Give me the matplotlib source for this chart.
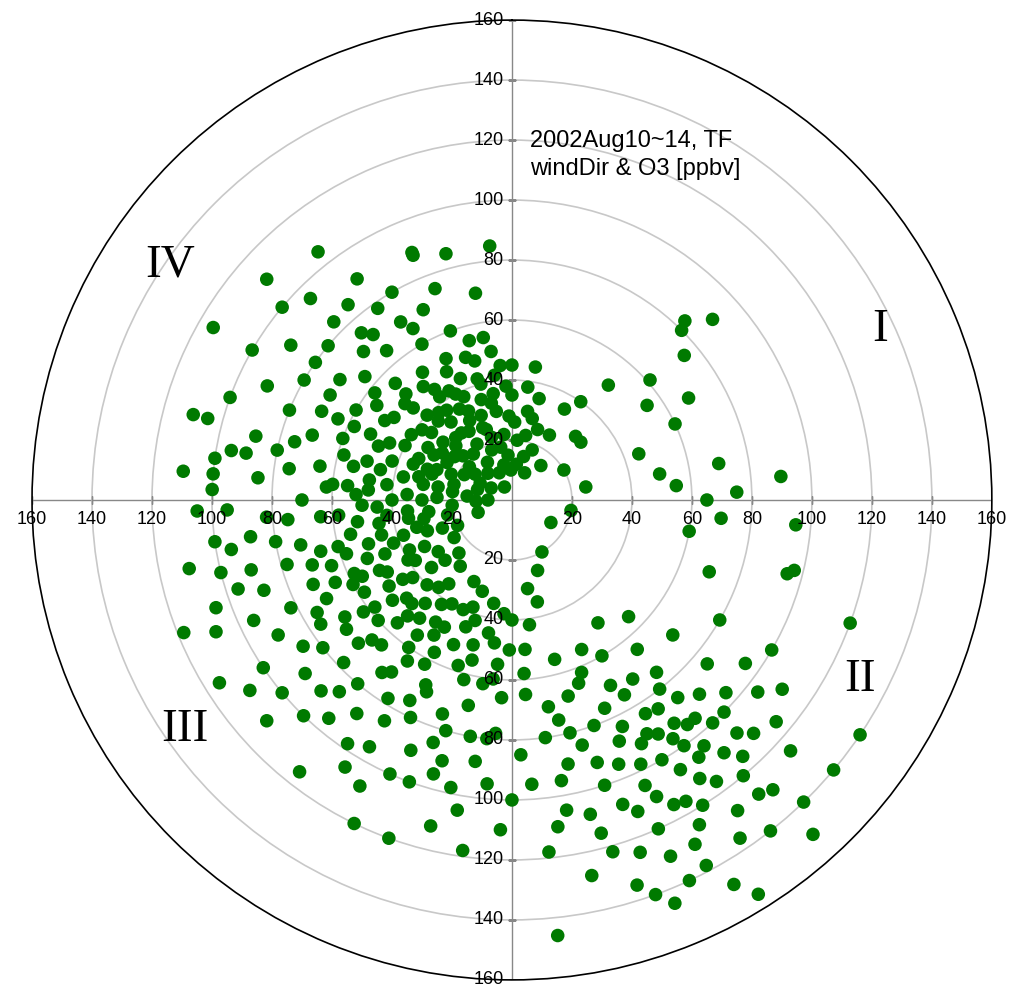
import numpy as np
import matplotlib
matplotlib.use("Agg")
import matplotlib.pyplot as plt

central = [(350,30),(340,25),(330,35),(320,20),(310,30),(300,25),(290,35),(280,30),(270,40),(260,35),(250,30),(240,40),(230,35),(220,45),(210,40),(200,45),(355,15),(345,40),(335,10),(325,45),(315,40),(305,15),(295,45),(285,20),(275,15),(265,20),(255,45),(245,20),(235,50),(225,25),(215,55),(205,30),(195,50),(190,35),(185,55),(5,20),(10,30),(15,15),(20,25),(25,10),(0,35),(358,28),(348,33),(338,18),(328,27),(318,12),(308,38),(298,18),(288,42),(278,48),(268,50),(258,55),(248,52),(238,58),(228,60),(218,50),(208,62),(198,58),(250,12),(270,8),(300,8),(330,5),(180,40),(175,50),(170,30),(160,25),(150,20),(120,15),(100,20),(80,25),(60,20),(45,30),(30,35),(40,15),(225,40),(235,30),(245,65),(255,60),(265,58),(275,55),(285,50),(295,52),(305,48),(315,50),(325,42),(335,38),(345,48),(352,42),
(342,22),(332,30),(322,33),(312,22),(302,33),(292,27),(282,37),(272,25),(262,28),(252,38),(242,33),(232,42),(222,52),(212,48),(202,52),(357,38),(347,12),(337,44),(327,15),(317,36),(307,24),(297,40),(287,12),(277,42),(267,45),(257,22),(247,46),(237,23),(227,48),(217,35),(207,57),(197,42),(187,48),(2,26),(12,22),(7,12),(353,22),(343,35),(333,48),(323,28),(313,45),(303,40),(293,22),(283,45),(273,35),(263,42),(253,50),(243,56),(233,62),(223,56),(213,64),
(300,30),(310,35),(320,38),(330,42),(340,30),(350,36),(290,30),(280,25),(270,30),(260,45),(250,42),(240,48),(230,52),(220,38),(210,52),(200,38),(195,62),(205,68),(215,60),(225,66),(235,68),(245,58),(255,66),(265,64),(275,60),(285,58),(295,58),(305,55),(315,55),(325,52),(335,52),(345,55),(355,45),(0,45),(8,38),(14,28),(22,18),(298,12),(308,18),(318,28),(328,22),(338,26),(348,18),(358,10),(288,28),(278,20),(268,12),(258,30),(248,25),(238,38),(228,30),(218,28),(208,48),(198,32),(190,45),(184,38),(344,42),(334,33),(324,37),(314,26),(304,28),(294,34),(284,32),(274,48),(264,35),(254,33),(244,38),(234,45),(224,48),(214,42),(204,40),(194,55),(189,62),(181,50),(176,58),(172,42),(166,35),(262,52),(272,52),(282,54),(292,48),(302,50),(312,48),(322,48),(332,40),(342,50),(352,50),(227,70),(237,76),(247,72),(232,58),(242,50),(252,58),(217,72),(207,75)]
southwest = [(215,70),(220,80),(225,90),(230,100),(235,85),(240,75),(245,95),(250,105),(255,90),(260,80),(205,80),(210,95),(200,100),(195,90),(190,105),(185,95),(180,100),(182,110),(188,118),(228,110),(238,115),(248,118),(258,110),(262,100),(268,95),(272,100),(265,75),(270,70),(275,85),(280,90),(285,75),(212,105),(218,115),(222,65),(232,70),(242,60),(252,70),(198,75),(192,70),(186,80),(206,120),(200,120),(208,108),(236,100),(244,82),(254,78),(226,78),(216,88),(262,88),(274,62),(198,85),(194,112),(178,85),(176,95),(183,66),(186,60),(275,100),
(196,95),(202,90),(210,85),(220,95),(230,90),(240,90),(250,88),(256,100),(246,108),(234,108),(224,100),(214,98),(204,100),(192,98),(188,88),(184,78),(190,80),(196,80),(204,70),(212,78),(222,86),(232,80),(242,70),(250,64),(258,72),(266,82),(278,75),(268,105),(252,96),(260,95)]
southeast = [(150,90),(145,100),(140,110),(148,120),(152,130),(155,140),(158,145),(160,125),(165,115),(170,105),(155,105),(145,85),(140,95),(135,100),(130,115),(138,130),(142,140),(150,148),(162,100),(168,90),(172,80),(160,80),(150,75),(140,75),(130,85),(125,95),(125,110),(120,100),(132,125),(136,140),(144,128),(152,115),(158,95),(164,85),(170,70),(176,65),(160,65),(150,60),(140,65),(130,70),(120,80),(146,112),(154,98),(156,88),(148,92),(142,104),(136,90),(128,104),(166,108),(174,118),(162,135),(148,155),(168,128),(105,95),(100,60),(110,70),(135,55),(145,50),(155,55),(165,55),(95,70),(110,120),(124,140),(130,140),(138,150),(174,146),(104,97),
(146,96),(150,100),(154,110),(148,106),(144,116),(140,120),(150,125),(156,120),(158,112),(152,92),(148,84),(144,92),(140,86),(136,108),(132,96),(160,108),(162,92),(166,80),(156,76),(152,70),(146,72),(142,80),(138,100),(134,112),(146,136),(152,138),(140,128),(160,140),(156,130),(164,122),(170,95),(172,110),(168,75),(164,68),(158,62),(154,84),(150,116),(144,106),(138,115),(142,95)]
northwest = [(300,100),(305,90),(310,100),(315,95),(320,85),(325,90),(330,80),(335,70),(340,75),(345,85),(310,80),(300,80),(295,90),(290,100),(285,105),(280,95),(285,110),(295,70),(305,70),(315,70),(320,65),(330,60),(340,60),(350,70),(355,85),(350,55),(290,60),(300,60),(280,65),(275,110),(300,115),(312,110),(322,105),(318,75),(328,70),(338,88),(308,58),(292,80),(282,80),(278,100),(338,89),
(310,64),(320,72),(330,66),(300,70),(295,64),(305,80),(325,78),(315,84),(288,70),(284,88)]
northeast = [(30,25),(50,30),(40,50),(45,80),(50,75),(48,90),(70,45),(80,50),(85,55),(80,70),(88,75),(85,90),(95,95),(10,45),(15,35),(35,40),(55,55),(65,60),(90,65),(60,68),(44,83),(49,61)]

pts = central + southwest + southeast + northwest + northeast
wind_dir = np.array([p[0] for p in pts], dtype=float)
o3 = np.array([p[1] for p in pts], dtype=float)
rticks = [20, 40, 60, 80, 100, 120, 140, 160]

fig = plt.figure(figsize=(10.2, 10), dpi=100)
ax = fig.add_axes([0.0314, 0.02, 0.941, 0.96], projection='polar')
ax.set_theta_zero_location('N')
ax.set_theta_direction(-1)
ax.set_rlim(0, 160)
ax.set_rticks(rticks[:-1])
ax.set_yticklabels([])
ax.set_xticks([])
ax.yaxis.grid(True, color='#c8c8c8', lw=1.2)
ax.spines['polar'].set_color('black')
ax.spines['polar'].set_linewidth(1.2)

for th in [0, np.pi/2, np.pi, 3*np.pi/2]:
    ax.plot([th, th], [0, 160], color='#888888', lw=1, zorder=1)

ax.scatter(np.deg2rad(wind_dir), o3, s=95, color='#007a00', edgecolors='none', zorder=3)

for r in rticks:
    for th, off, ha, va in [(np.pi/2, (0, -8), 'center', 'top'), (3*np.pi/2, (0, -8), 'center', 'top'),
                            (0, (-6, 0), 'right', 'center'), (np.pi, (-6, 0), 'right', 'center')]:
        ax.annotate(str(r), (th, r), xytext=off, textcoords='offset points',
                    ha=ha, va=va, fontsize=13, family='Liberation Sans', zorder=4, annotation_clip=False)
    ax.plot([np.pi/2, np.pi/2], [r, r], marker='|', ms=6, color='#888888')
    ax.plot([3*np.pi/2, 3*np.pi/2], [r, r], marker='|', ms=6, color='#888888')
    ax.plot([0, 0], [r, r], marker='_', ms=6, color='#888888')
    ax.plot([np.pi, np.pi], [r, r], marker='_', ms=6, color='#888888')

fig.text(530/1020, 1-155/1000, '2002Aug10~14, TF\nwindDir & O3 [ppbv]', fontsize=17,
         family='Liberation Sans', ha='left', va='center', linespacing=1.3)
for txt, x, y in [('IV', 170, 265), ('I', 880, 330), ('II', 860, 680), ('III', 185, 730)]:
    fig.text(x/1020, 1-y/1000, txt, fontsize=34, family='Liberation Serif', ha='center', va='center')

fig.savefig('out.png', dpi=100)
